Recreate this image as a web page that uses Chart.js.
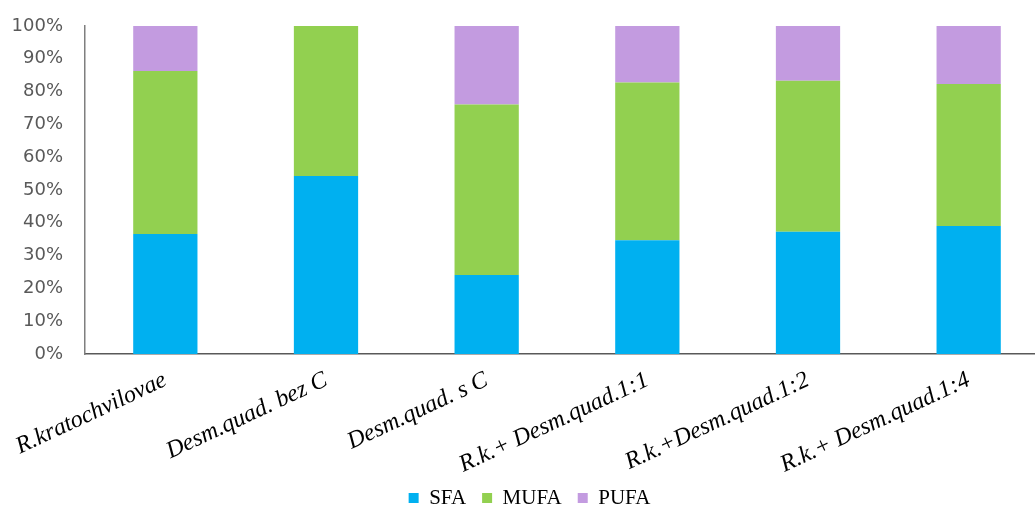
<!DOCTYPE html>
<html>
<head>
<meta charset="utf-8">
<script src="https://cdn.jsdelivr.net/npm/chart.js@4/dist/chart.umd.min.js"></script>
<style>
  html, body { margin: 0; padding: 0; background: #fff; overflow: hidden; }
  #wrap { width: 1049px; height: 509px; }
</style>
</head>
<body>
<div id="wrap"><canvas id="fattyAcids" width="1049" height="509"></canvas></div>
<script>
// Fatty acid profile (% of total) per culture
const categories = [
    'R.kratochvilovae',
    'Desm.quad. bez C',
    'Desm.quad. s C',
    'R.k.+ Desm.quad.1:1',
    'R.k.+Desm.quad.1:2',
    'R.k.+ Desm.quad.1:4'
];
const sfa  = [36.6, 54.3, 24.1, 34.7, 37.3, 39.0];
const mufa = [49.7, 45.7, 52.0, 48.1, 46.0, 43.3];
const pufa = [13.7, 0.0, 23.9, 17.2, 16.7, 17.7];
const yTicks = [0, 10, 20, 30, 40, 50, 60, 70, 80, 90, 100];

const colors = {
    sfa: '#00B0F0',
    mufa: '#92D050',
    pufa: '#C39BE0'
};

const PLOT_BOTTOM = 354;   // pixel row of the 0% line
const LEGEND_MID = 498;    // vertical centre of the legend row
const LEGEND_NUDGE = 5;    // legend sits slightly right of the canvas centre

// let the category labels run below the axis box, and drop the legend to the bottom edge
const bottomArea = {
    id: 'bottomArea',
    afterLayout(chart) {
        chart.scales.x.bottom = chart.height;

        const lg = chart.legend;
        const lbl = lg.options.labels;
        const itemH = Math.max(lbl.boxHeight, lbl.font.size);
        const dy = LEGEND_MID - (lg.top + lbl.padding + itemH / 2);
        lg.top += dy;
        lg.bottom += dy;
        lg.left += LEGEND_NUDGE;
        lg.right += LEGEND_NUDGE;
    }
};

const noScalePadding = scale => {
    scale.paddingLeft = 0;
    scale.paddingRight = 0;
    scale.paddingTop = 0;
    scale.paddingBottom = 0;
};

const ctx = document.getElementById('fattyAcids').getContext('2d');

const chart = new Chart(ctx, {
    type: 'bar',
    data: {
        labels: categories,
        datasets: [
            { label: 'SFA', data: sfa, backgroundColor: colors.sfa },
            { label: 'MUFA', data: mufa, backgroundColor: colors.mufa },
            { label: 'PUFA', data: pufa, backgroundColor: colors.pufa }
        ]
    },
    plugins: [bottomArea],
    options: {
        responsive: false,
        animation: false,
        barPercentage: 0.4,
        categoryPercentage: 1.0,
        layout: {
            padding: { top: 26, right: 0, left: 0, bottom: 0 }
        },
        plugins: {
            tooltip: { enabled: false },
            legend: {
                position: 'bottom',
                labels: {
                    boxWidth: 10,
                    boxHeight: 10,
                    padding: 16,
                    color: '#000',
                    font: { family: 'Liberation Serif', size: 21 }
                }
            }
        },
        scales: {
            x: {
                stacked: true,
                grid: { display: false, drawTicks: false },
                border: { display: true, color: '#595959', width: 1.5 },
                ticks: {
                    minRotation: 25,
                    maxRotation: 25,
                    padding: 12,
                    color: '#000',
                    font: { family: 'Liberation Serif', size: 24, style: 'italic' }
                },
                afterFit: scale => {
                    noScalePadding(scale);
                    scale.height = scale.chart.height - PLOT_BOTTOM - scale.chart.legend.height;
                }
            },
            y: {
                stacked: true,
                min: 0,
                max: 100,
                grid: { display: false, drawTicks: false },
                border: { display: true, color: '#7f7f7f', width: 1.5 },
                afterBuildTicks: scale => {
                    scale.ticks = yTicks.map(v => ({ value: v }));
                },
                ticks: {
                    padding: 22,
                    color: '#595959',
                    font: { family: 'DejaVu Sans', size: 18 },
                    callback: value => value + '%'
                },
                afterFit: scale => {
                    noScalePadding(scale);
                    scale.width = 85;
                }
            }
        }
    }
});
</script>
</body>
</html>
